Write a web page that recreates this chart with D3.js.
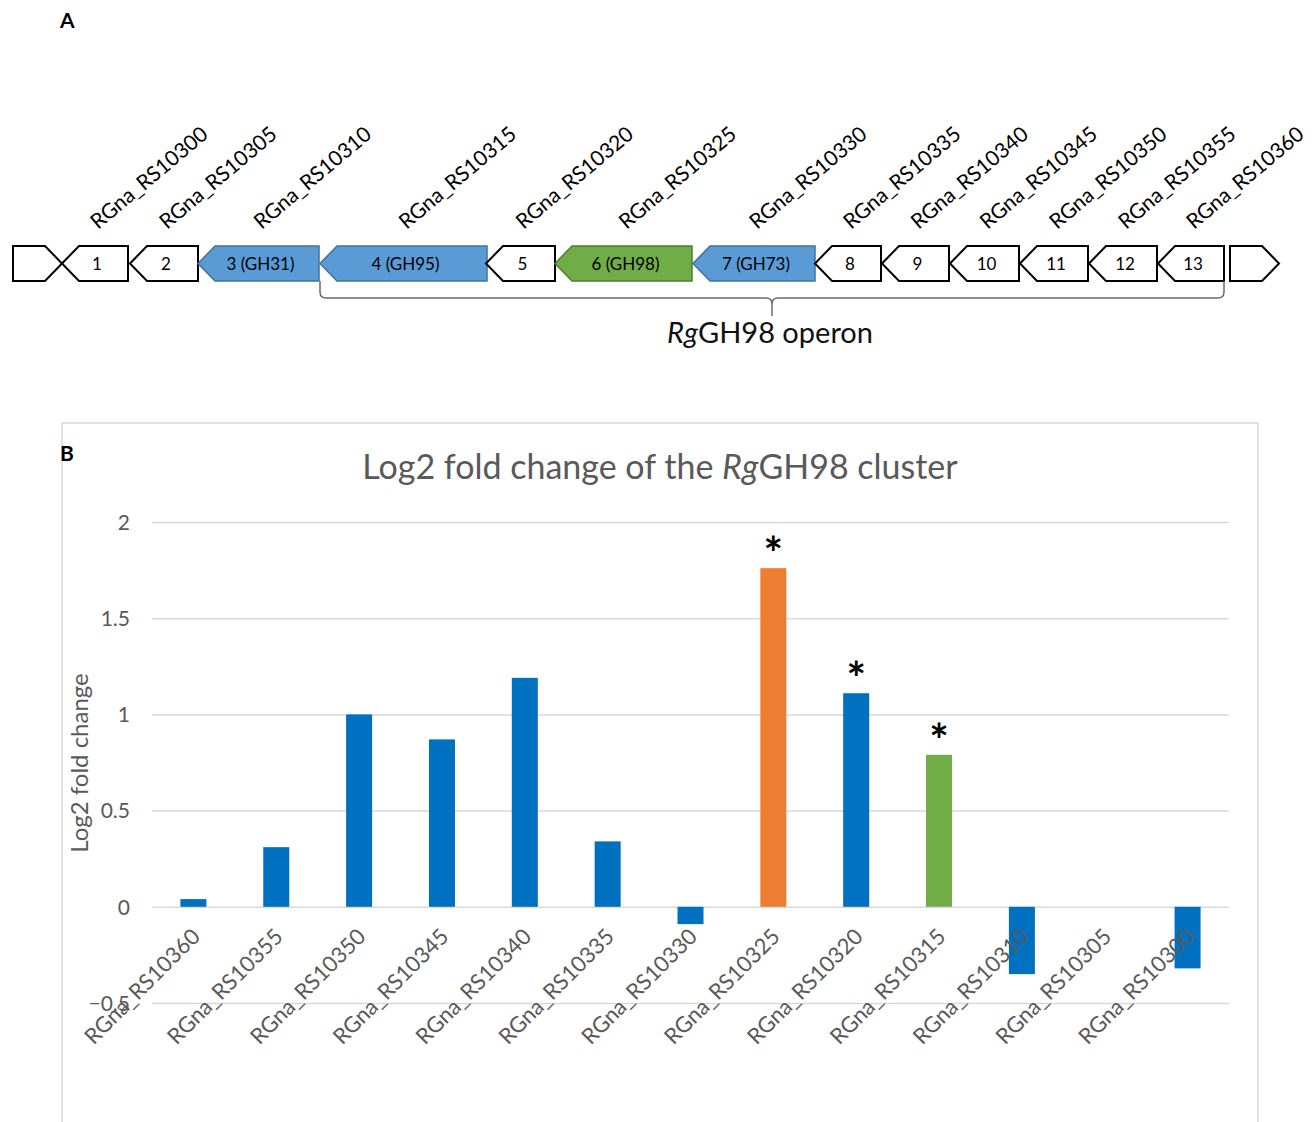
<!DOCTYPE html>
<html>
<head>
<meta charset="utf-8">
<script src="https://cdn.jsdelivr.net/npm/d3@7"></script>
<style>
  html, body { margin: 0; padding: 0; background: #fff; }
  svg { display: block; }
  text { font-family: Lato, "Open Sans", sans-serif; }
</style>
</head>
<body>
<script>
// ---------- Panel A: gene neighbourhood ----------
// Locus tags, left to right on the map
const geneTags = ["RGna_RS10300", "RGna_RS10305", "RGna_RS10310", "RGna_RS10315",
  "RGna_RS10320", "RGna_RS10325", "RGna_RS10330", "RGna_RS10335", "RGna_RS10340",
  "RGna_RS10345", "RGna_RS10350", "RGna_RS10355", "RGna_RS10360"];
// Label inside each arrow
const geneNames = ["1", "2", "3 (GH31)", "4 (GH95)", "5", "6 (GH98)", "7 (GH73)",
  "8", "9", "10", "11", "12", "13"];
// Map coordinates (arbitrary locus units) of each gene
const geneStart = [49, 117, 185, 307, 473, 542, 680, 802, 869, 937, 1007, 1076, 1145];
const geneEnd   = [115, 185, 306, 474, 542, 679, 802, 868, 936, 1006, 1075, 1144, 1211];
// Glycoside hydrolase family of each gene ("" = none highlighted)
const geneFamily = ["", "", "GH31", "GH95", "", "GH98", "GH73", "", "", "", "", "", ""];
// Flanking genes on the opposite strand
const flankStart = [0, 1217];
const flankEnd   = [49, 1266];
// Operon extent (first and last gene index)
const operonGenes = [3, 12];

// ---------- Panel B: log2 fold change ----------
const categories = ["RGna_RS10360", "RGna_RS10355", "RGna_RS10350", "RGna_RS10345",
  "RGna_RS10340", "RGna_RS10335", "RGna_RS10330", "RGna_RS10325", "RGna_RS10320",
  "RGna_RS10315", "RGna_RS10310", "RGna_RS10305", "RGna_RS10300"];
const log2fc = [0.04, 0.31, 1.0, 0.87, 1.19, 0.34, -0.09, 1.76, 1.11, 0.79, -0.35, 0, -0.32];
const significant = [false, false, false, false, false, false, false, true, true, true, false, false, false];
const yTicks = [-0.5, 0, 0.5, 1, 1.5, 2];

const W = 1315, H = 1122;
const svg = d3.select("body").append("svg").attr("width", W).attr("height", H);
svg.append("rect").attr("width", W).attr("height", H).attr("fill", "#fff");

// ===== Panel A =====
const gA = svg.append("g");
gA.append("text").attr("x", 60).attr("y", 28).text("A")
  .attr("font-size", 21).attr("font-weight", 700);

const mapX = d3.scaleLinear().domain([0, 1266]).range([13, 1279]);
const rowTop = 246, rowBot = 281, rowMid = (rowTop + rowBot) / 2, head = 17;

const familyFill = { GH31: "#5B9BD5", GH95: "#5B9BD5", GH73: "#5B9BD5", GH98: "#70AD47" };
const familyStroke = { GH31: "#41719C", GH95: "#41719C", GH73: "#41719C", GH98: "#507E32" };

function arrowPoints(x0, x1, strand) {
  if (strand < 0) {
    return [[x0, rowMid], [x0 + head, rowTop], [x1, rowTop], [x1, rowBot], [x0 + head, rowBot]];
  }
  return [[x0, rowTop], [x1 - head, rowTop], [x1, rowMid], [x1 - head, rowBot], [x0, rowBot]];
}

const line = d3.line();
// flanking genes (pointing right)
gA.selectAll("path.flank").data(flankStart).join("path")
  .attr("class", "flank")
  .attr("d", (d, i) => line(arrowPoints(mapX(d), mapX(flankEnd[i]), 1)) + "Z")
  .attr("fill", "#fff").attr("stroke", "#000").attr("stroke-width", 2)
  .attr("stroke-linejoin", "miter");

// genes of the cluster (pointing left)
const genes = geneTags.map((t, i) => ({
  tag: t, name: geneNames[i], x0: mapX(geneStart[i]), x1: mapX(geneEnd[i]), fam: geneFamily[i]
}));

gA.selectAll("path.gene").data(genes).join("path")
  .attr("class", "gene")
  .attr("d", d => line(arrowPoints(d.x0, d.x1, -1)) + "Z")
  .attr("fill", d => familyFill[d.fam] || "#fff")
  .attr("stroke", d => familyStroke[d.fam] || "#000")
  .attr("stroke-width", d => familyFill[d.fam] ? 1.5 : 2)
  .attr("stroke-linejoin", "miter");

gA.selectAll("text.gname").data(genes).join("text")
  .attr("class", "gname")
  .attr("x", d => (d.x0 + d.x1) / 2 + 2)
  .attr("y", rowMid + 6)
  .attr("text-anchor", "middle")
  .attr("font-size", 17)
  .attr("fill", "#000")
  .text(d => d.name);

gA.selectAll("text.gtag").data(genes).join("text")
  .attr("class", "gtag")
  .attr("transform", d => `translate(${(d.x0 + d.x1) / 2 + 3},${rowTop - 16}) rotate(-40)`)
  .attr("font-size", 21)
  .attr("fill", "#000")
  .text(d => d.tag);

// operon bracket
const bx0 = genes[operonGenes[0]].x0, bx1 = genes[operonGenes[1]].x1;
const bm = (bx0 + bx1) / 2, by = 298, r = 6;
const bracket = d3.path();
bracket.moveTo(bx0, rowBot);
bracket.lineTo(bx0, by - r);
bracket.quadraticCurveTo(bx0, by, bx0 + r, by);
bracket.lineTo(bm - r, by);
bracket.quadraticCurveTo(bm, by, bm, by + r);
bracket.lineTo(bm, 316);
bracket.moveTo(bm, by + r);
bracket.quadraticCurveTo(bm, by, bm + r, by);
bracket.lineTo(bx1 - r, by);
bracket.quadraticCurveTo(bx1, by, bx1, by - r);
bracket.lineTo(bx1, rowBot);
gA.append("path").attr("d", bracket.toString())
  .attr("fill", "none").attr("stroke", "#6b6b6b").attr("stroke-width", 1.5);

const op = gA.append("text").attr("x", bm - 2).attr("y", 343)
  .attr("text-anchor", "middle").attr("font-size", 29).attr("fill", "#111");
op.append("tspan").attr("font-style", "italic").text("Rg");
op.append("tspan").text("GH98 operon");

// ===== Panel B =====
const gB = svg.append("g");
gB.append("rect").attr("x", 62).attr("y", 423).attr("width", 1196).attr("height", 720)
  .attr("fill", "#fff").attr("stroke", "#d9d9d9").attr("stroke-width", 1.5);
gB.append("text").attr("x", 60).attr("y", 461).text("B")
  .attr("font-size", 21).attr("font-weight", 700);

const title = gB.append("text").attr("x", 660).attr("y", 479)
  .attr("text-anchor", "middle").attr("font-size", 34).attr("fill", "#595959");
title.append("tspan").text("Log2 fold change of the ");
title.append("tspan").attr("font-style", "italic").text("Rg");
title.append("tspan").text("GH98 cluster");

const x = d3.scaleBand().domain(categories).range([152, 1229])
  .paddingInner(0.686).paddingOuter(0.343);
const y = d3.scaleLinear().domain([-0.5, 2]).range([1003, 522]);

// gridlines + value axis
const yAxis = d3.axisLeft(y).tickValues(yTicks).tickSize(-(1229 - 152)).tickPadding(22)
  .tickFormat(d3.format("~g"));
const ya = gB.append("g").attr("transform", "translate(152,0)").call(yAxis);
ya.select(".domain").remove();
ya.selectAll(".tick line").attr("stroke", "#d9d9d9").attr("stroke-width", 1.5);
ya.selectAll(".tick text").attr("fill", "#595959").attr("font-size", 21)
  .attr("font-family", "Lato, 'Open Sans', sans-serif").attr("dy", "0.35em");

gB.append("text").attr("transform", "translate(88,763) rotate(-90)")
  .attr("text-anchor", "middle").attr("font-size", 24).attr("fill", "#595959")
  .text("Log2 fold change");

const barColor = c => c === "RGna_RS10325" ? "#ED7D31" : c === "RGna_RS10315" ? "#70AD47" : "#0070C0";
const data = categories.map((c, i) => ({ c, v: log2fc[i], sig: significant[i] }));

gB.selectAll("rect.bar").data(data.filter(d => d.v !== 0)).join("rect")
  .attr("class", "bar")
  .attr("x", d => x(d.c))
  .attr("width", x.bandwidth())
  .attr("y", d => y(Math.max(0, d.v)))
  .attr("height", d => Math.abs(y(d.v) - y(0)))
  .attr("fill", d => barColor(d.c));

// significance marks
gB.selectAll("text.sig").data(data.filter(d => d.sig)).join("text")
  .attr("class", "sig")
  .attr("x", d => x(d.c) + x.bandwidth() / 2)
  .attr("y", d => y(d.v) + 2)
  .attr("text-anchor", "middle")
  .attr("font-family", "'Liberation Sans', Arial, sans-serif")
  .attr("font-weight", 700).attr("font-size", 46).attr("fill", "#000")
  .text("*");

// category labels
gB.selectAll("text.cat").data(categories).join("text")
  .attr("class", "cat")
  .attr("transform", c => `translate(${x(c) + x.bandwidth() / 2 + 8},938) rotate(-45)`)
  .attr("text-anchor", "end")
  .attr("font-size", 22).attr("fill", "#595959")
  .text(c => c);
</script>
</body>
</html>
